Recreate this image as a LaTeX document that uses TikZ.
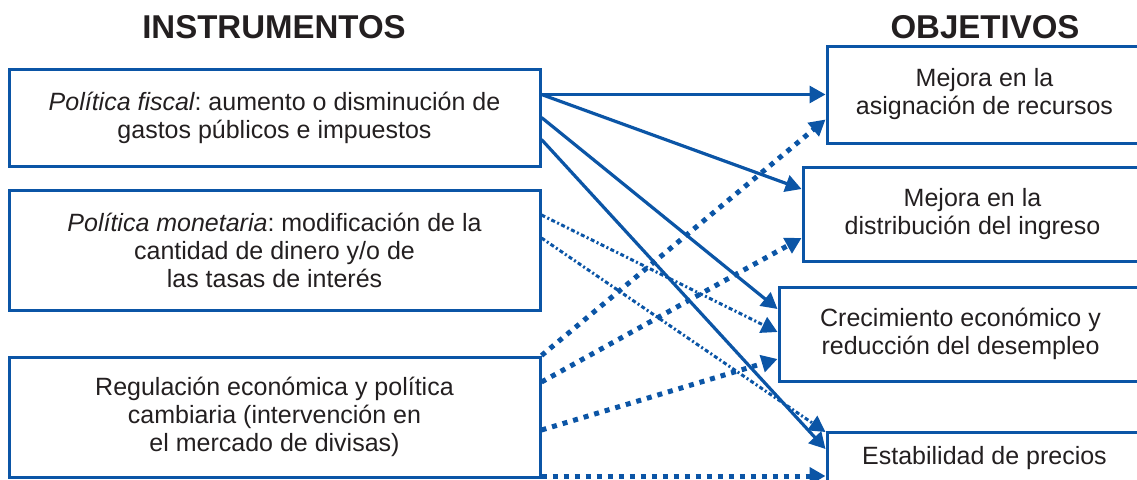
\documentclass[tikz,border=0pt]{standalone}
\usepackage{fontspec}
\setmainfont{Liberation Sans}
\usetikzlibrary{arrows.meta}
\definecolor{azul}{HTML}{0B55A6}
\definecolor{tinta}{HTML}{231F20}
\frenchspacing

\begin{document}
\begin{tikzpicture}[x=1pt, y=-1pt, font=\fontsize{25}{28}\selectfont, text=tinta,
  caja/.style={draw=azul, line width=3pt, align=center, inner sep=0pt},
  titulo/.style={font=\bfseries\fontsize{33}{36}\selectfont},
  flecha/.style={azul, line width=3.2pt, -{Triangle[length=16pt, width=17pt]}},
  punteo/.style={flecha, line width=5pt, dash pattern=on 5pt off 6pt},
  fino/.style={flecha, line width=3pt, dash pattern=on 4pt off 2.5pt on 2pt off 2.5pt}]
\useasboundingbox (0,0) rectangle (1137,479);
\clip (0,0) rectangle (1137,479);
\node[titulo] (tins) at (274,27) {INSTRUMENTOS};
\node[titulo] (tobj) at (985,27) {OBJETIVOS};
% instrumentos
\node[caja, minimum width=531pt, minimum height=97pt] (fis) at (274.5,117.5)
  {{\itshape Política fiscal}: aumento o disminución de\\gastos públicos e impuestos};
\node[caja, minimum width=531pt, minimum height=120pt] (mon) at (274.5,250)
  {{\itshape Política monetaria}: modificación de la\\cantidad de dinero y/o de\\las tasas de interés};
\node[caja, minimum width=531pt, minimum height=120pt] (reg) at (274.5,417)
  {Regulación económica y política\\cambiaria (intervención en\\el mercado de divisas)};
% objetivos
\node[caja, minimum width=315pt, minimum height=97pt] (asig) at (984.5,94.5)
  {Mejora en la\\asignación de recursos};
\node[caja, minimum width=339pt, minimum height=94pt] (dist) at (972.5,214)
  {Mejora en la\\distribución del ingreso};
\node[caja, minimum width=363pt, minimum height=94pt] (crec) at (960.5,334)
  {Crecimiento económico y\\reducción del desempleo};
\node[caja, minimum width=315pt, minimum height=52pt] (prec) at (984.5,458)
  {Estabilidad de precios};
% fiscal
\draw[flecha] ([yshift=23pt]fis.east) -- (asig.west);
\draw[flecha] ([yshift=23pt]fis.east) -- ([yshift=25pt]dist.west);
\draw[flecha] (fis.east) -- ([yshift=25pt]crec.west);
\draw[flecha] ([yshift=-22pt]fis.east) -- ([yshift=9pt]prec.west);
% monetaria
\draw[fino] ([yshift=35pt]mon.east) -- ([yshift=2pt]crec.west);
\draw[fino] ([yshift=12pt]mon.east) -- ([yshift=26pt]prec.west);
% regulacion
\draw[punteo] (reg.north east) -- ([yshift=-25pt]asig.west);
\draw[punteo] ([yshift=35pt]reg.east) -- ([yshift=-24pt]dist.west);
\draw[punteo] ([yshift=-13pt]reg.east) -- ([yshift=-25pt]crec.west);
\draw[punteo] ([yshift=-59pt]reg.east) -- ([yshift=-18pt]prec.west);
\end{tikzpicture}
\end{document}
